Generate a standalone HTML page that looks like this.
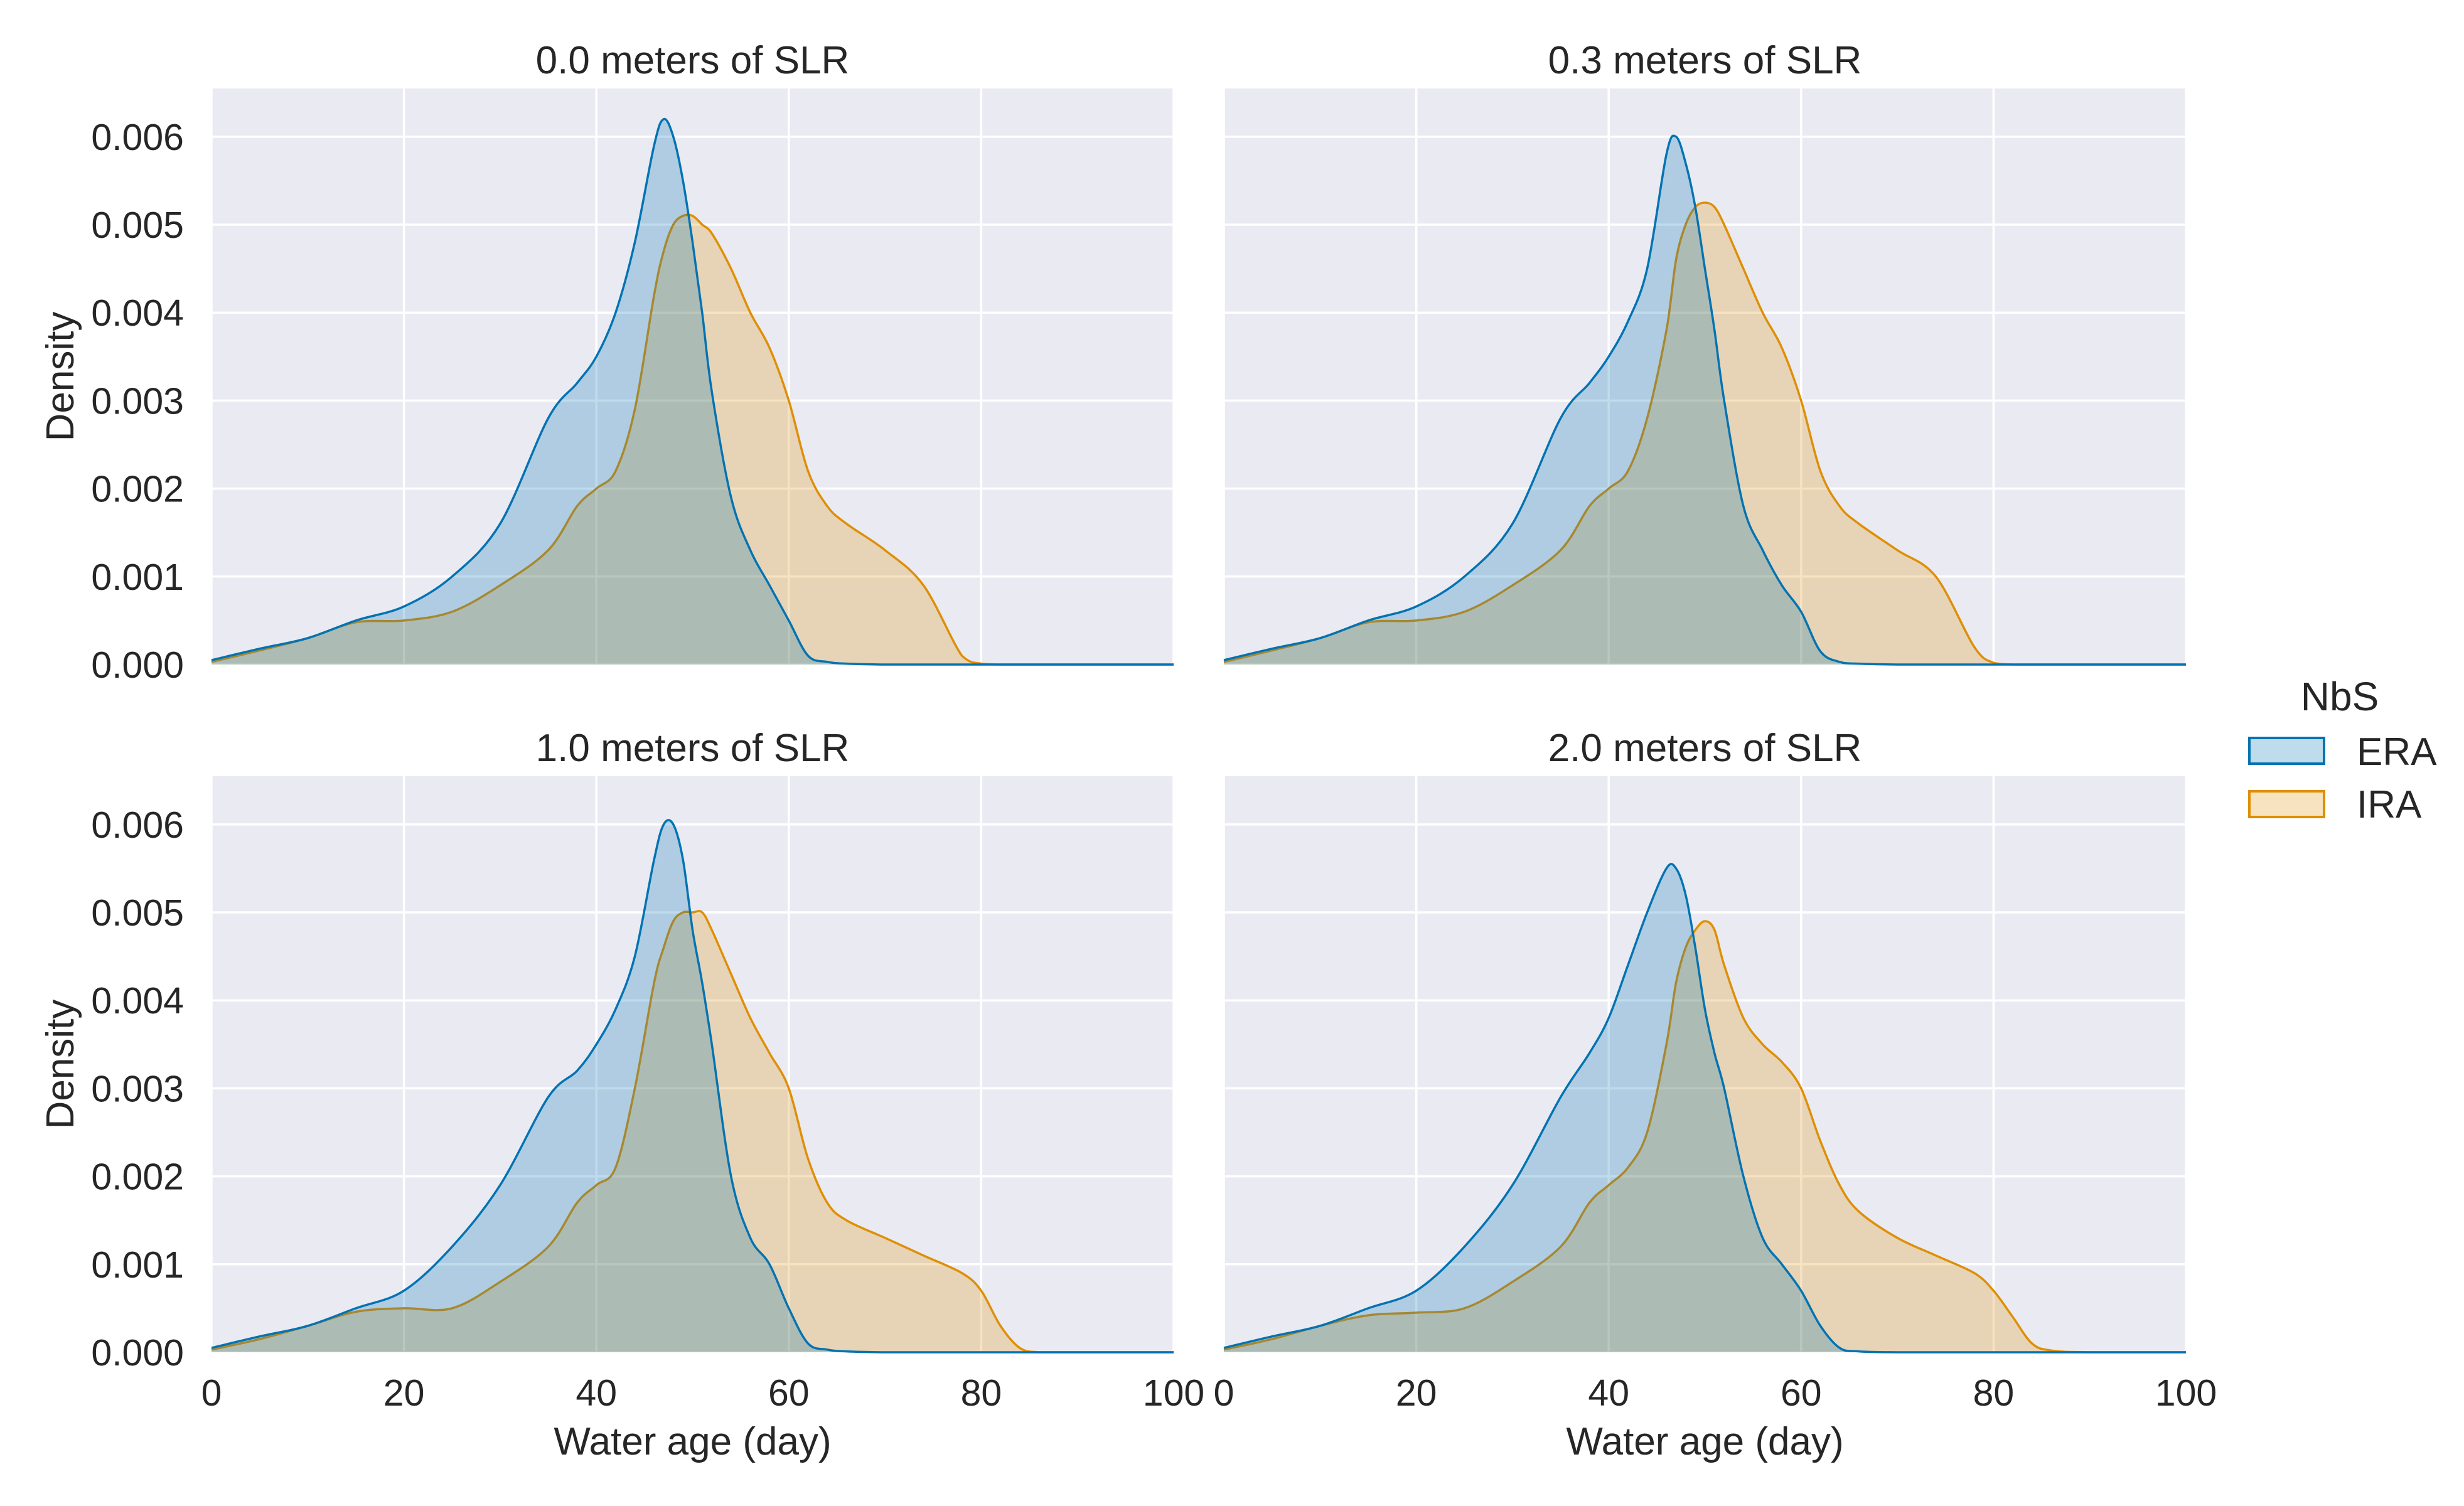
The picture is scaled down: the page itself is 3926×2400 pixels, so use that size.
<!DOCTYPE html>
<html><head><meta charset="utf-8">
<style>
html,body{margin:0;padding:0;background:#fff;}
svg{display:block;font-family:"Liberation Sans",Arial,sans-serif;}
</style></head>
<body>
<svg id="chart" width="3926" height="2400" viewBox="0 0 3926 2400" xmlns="http://www.w3.org/2000/svg">
  <g>
    <text x="3728" y="1132" font-size="64" text-anchor="middle" fill="#262626">NbS</text>
    <g>
      <rect x="3584" y="1176" width="119" height="41" fill="rgba(1,115,178,0.25)" stroke="#0173b2" stroke-width="4"/>
      <text x="3755" y="1219" font-size="62" fill="#262626">ERA</text>
    </g>
    <g>
      <rect x="3584" y="1261" width="119" height="41" fill="rgba(222,143,5,0.25)" stroke="#de8f05" stroke-width="4"/>
      <text x="3755" y="1303" font-size="62" fill="#262626">IRA</text>
    </g>
  </g>
</svg>
<script>
const xs = [0,5,10,15,20,25,30,35,38,40,42,44,46,47,48,49,50,51,52,54,56,58,60,62,64,66,70,74,78,80,82,84,86,90,100];
const panelTitles = ["0.0 meters of SLR","0.3 meters of SLR","1.0 meters of SLR","2.0 meters of SLR"];
const xTicks = [0,20,40,60,80,100];
const yTicks = [0,0.001,0.002,0.003,0.004,0.005,0.006];
const yTickLabels = ["0.000","0.001","0.002","0.003","0.004","0.005","0.006"];

const era00 = [0.00005,0.00018,0.0003,0.0005,0.00066,0.001,0.0016,0.0028,0.0032,0.0035,0.004,0.0048,0.0059,0.0062,0.006,0.0055,0.0048,0.004,0.0031,0.0019,0.0013,0.0009,0.0005,0.0001,0.00003,0.00001,0,0,0,0,0,0,0,0,0];
const ira00 = [0.00003,0.00016,0.0003,0.00048,0.0005,0.0006,0.0009,0.0013,0.0018,0.002,0.0022,0.0029,0.0042,0.0047,0.005,0.0051,0.0051,0.005,0.0049,0.0045,0.004,0.0036,0.003,0.0022,0.0018,0.0016,0.0013,0.0009,0.0001,0.00001,0,0,0,0,0];
const era03 = [0.00005,0.00018,0.0003,0.0005,0.00066,0.001,0.0016,0.0028,0.0032,0.0035,0.0039,0.0045,0.0058,0.006,0.0057,0.0052,0.0045,0.0038,0.003,0.0018,0.0013,0.0009,0.0006,0.00015,0.00003,0.00001,0,0,0,0,0,0,0,0,0];
const ira03 = [0.00003,0.00016,0.0003,0.00048,0.0005,0.0006,0.0009,0.0013,0.0018,0.002,0.0022,0.0028,0.0038,0.0046,0.005,0.0052,0.00525,0.0052,0.005,0.0045,0.004,0.0036,0.003,0.0022,0.0018,0.0016,0.0013,0.001,0.0002,0.00002,0,0,0,0,0];
const era10 = [0.00005,0.00018,0.0003,0.0005,0.0007,0.0012,0.0019,0.0029,0.0032,0.0035,0.0039,0.0045,0.0056,0.006,0.006,0.0056,0.0048,0.0042,0.0035,0.002,0.0013,0.001,0.0005,0.0001,0.00003,0.00001,0,0,0,0,0,0,0,0,0];
const ira10 = [0.00003,0.00015,0.0003,0.00046,0.0005,0.0005,0.0008,0.0012,0.0017,0.0019,0.0021,0.003,0.0042,0.0046,0.0049,0.005,0.005,0.005,0.0048,0.0043,0.0038,0.0034,0.003,0.0022,0.0017,0.0015,0.0013,0.0011,0.0009,0.0007,0.0003,0.00005,0,0,0];
const era20 = [0.00005,0.00018,0.0003,0.0005,0.0007,0.0012,0.0019,0.0029,0.0034,0.0038,0.0044,0.005,0.0055,0.0055,0.0052,0.0046,0.0039,0.0034,0.003,0.002,0.0013,0.001,0.0007,0.0003,0.00005,0.00001,0,0,0,0,0,0,0,0,0];
const ira20 = [0.00003,0.00015,0.0003,0.00042,0.00045,0.0005,0.0008,0.0012,0.0017,0.0019,0.0021,0.0025,0.0035,0.0042,0.0046,0.0048,0.0049,0.0048,0.0044,0.0038,0.0035,0.0033,0.003,0.0024,0.0019,0.0016,0.0013,0.0011,0.0009,0.0007,0.0004,0.0001,0.00002,0,0];

const eraSeries = [era00, era03, era10, era20];
const iraSeries = [ira00, ira03, ira10, ira20];

const NS = "http://www.w3.org/2000/svg";
const svg = document.getElementById("chart");
const panels = [
  {x0:337,x1:1870,y0:141,y1:1059},
  {x0:1950,x1:3483,y0:141,y1:1059},
  {x0:337,x1:1870,y0:1237,y1:2155},
  {x0:1950,x1:3483,y0:1237,y1:2155}
];
const YMAX = 0.006548;

function mk(tag, attrs, parent){
  const e = document.createElementNS(NS, tag);
  for (const k in attrs) e.setAttribute(k, attrs[k]);
  parent.appendChild(e);
  return e;
}

function smoothPath(pts){
  let d = "M" + pts[0][0].toFixed(1) + "," + pts[0][1].toFixed(1);
  for (let i=0;i<pts.length-1;i++){
    const p0 = pts[Math.max(0,i-1)], p1 = pts[i], p2 = pts[i+1], p3 = pts[Math.min(pts.length-1,i+2)];
    const t = 1/6;
    let c1y = p1[1] + (p2[1]-p0[1])*t, c2y = p2[1] - (p3[1]-p1[1])*t;
    c1y = Math.min(c1y, pts.baseY); c2y = Math.min(c2y, pts.baseY);
    const c1x = p1[0] + (p2[0]-p0[0])*t, c2x = p2[0] - (p3[0]-p1[0])*t;
    d += " C" + c1x.toFixed(1)+","+c1y.toFixed(1)+" "+c2x.toFixed(1)+","+c2y.toFixed(1)+" "+p2[0].toFixed(1)+","+p2[1].toFixed(1);
  }
  return d;
}

panels.forEach((p, i) => {
  const sx = v => p.x0 + (v/100)*(p.x1-p.x0);
  const sy = v => p.y1 - (v/YMAX)*(p.y1-p.y0);
  const g = mk("g", {}, svg);
  
  
  const bg = mk("rect", {x:p.x0, y:p.y0, width:p.x1-p.x0, height:p.y1-p.y0, fill:"#eaeaf2"}, g);
  
  
  xTicks.forEach(t => {
    const l = mk("line", {x1:sx(t), x2:sx(t), y1:p.y0, y2:p.y1, stroke:"#fff", "stroke-width":3.5}, g);
    
    
  });
  yTicks.forEach(t => {
    const l = mk("line", {x1:p.x0, x2:p.x1, y1:sy(t), y2:sy(t), stroke:"#fff", "stroke-width":3.5}, g);
    
    
  });
  const series = [
    {name:"ira", data:iraSeries[i], fill:"rgba(222,143,5,0.25)", stroke:"#de8f05"},
    {name:"era", data:eraSeries[i], fill:"rgba(1,115,178,0.25)", stroke:"#0173b2"}
  ];
  series.forEach(s => {
    const pts = xs.map((x,k) => [sx(x), sy(s.data[k])]);
    pts.baseY = sy(0);
    const line = smoothPath(pts);
    const area = mk("path", {d: line + " L"+sx(xs[xs.length-1])+","+sy(0)+" L"+sx(xs[0])+","+sy(0)+" Z", fill:s.fill, stroke:"none"}, g);
    
    
    const ln = mk("path", {d: line, fill:"none", stroke:s.stroke, "stroke-width":3.5, "stroke-linejoin":"round"}, g);
    
    
  });
  const title = mk("text", {x:(p.x0+p.x1)/2, y:p.y0-24, "font-size":62, "text-anchor":"middle", fill:"#262626"}, g);
  title.textContent = panelTitles[i];
  
  
  if (i % 2 === 0){
    yTicks.forEach((t,k) => {
      const tx = mk("text", {x:p.x0-44, y:sy(t)+21, "font-size":59, "text-anchor":"end", fill:"#262626"}, g);
      tx.textContent = yTickLabels[k];
      
      
    });
    const yl = mk("text", {x:0, y:0, "font-size":62, "text-anchor":"middle", fill:"#262626", transform:"translate(117,"+((p.y0+p.y1)/2)+") rotate(-90)"}, g);
    yl.textContent = "Density";
    
    
  }
  if (i >= 2){
    xTicks.forEach(t => {
      const tx = mk("text", {x:sx(t), y:p.y1+85, "font-size":59, "text-anchor":"middle", fill:"#262626"}, g);
      tx.textContent = String(t);
      
      
    });
    const xl = mk("text", {x:(p.x0+p.x1)/2, y:p.y1+163, "font-size":62, "text-anchor":"middle", fill:"#262626"}, g);
    xl.textContent = "Water age (day)";
    
    
  }
});
</script>
</body></html>
